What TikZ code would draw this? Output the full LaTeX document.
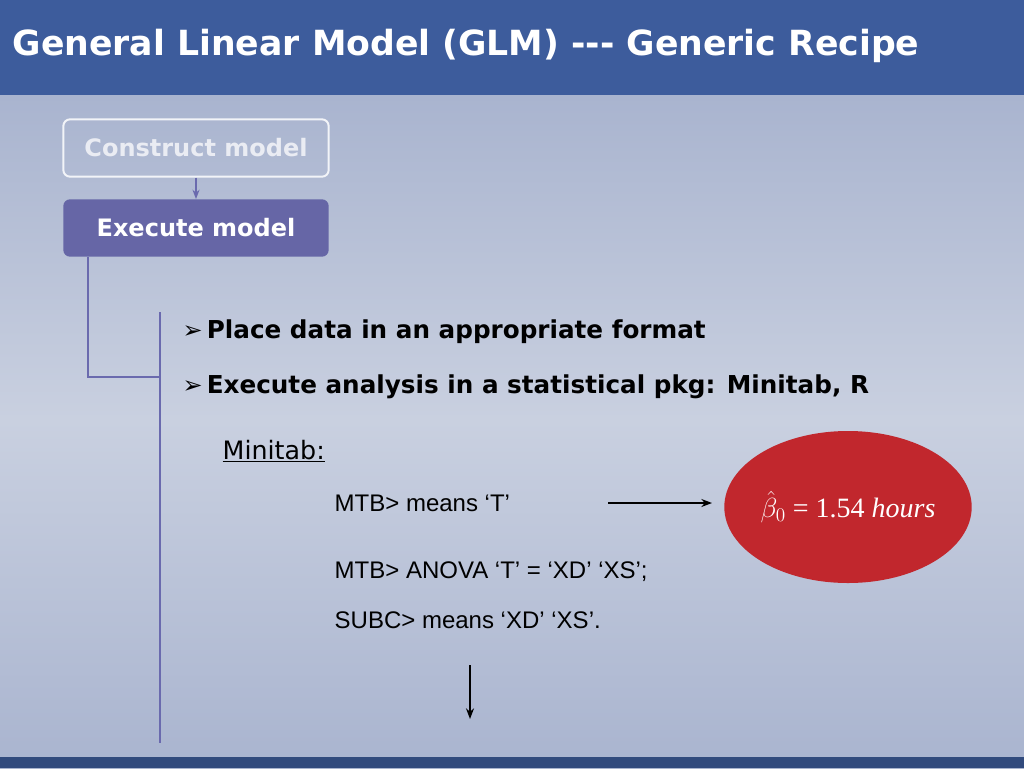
\documentclass[tikz,border=0pt]{standalone}
\usepackage{fontspec}
\setmainfont{Liberation Sans}
\newfontfamily\comic{DejaVu Sans}
\newfontfamily\timesf{Liberation Serif}
\usetikzlibrary{shapes.geometric,arrows.meta}
\definecolor{bgtop}{HTML}{A9B4CF}
\definecolor{bgmid}{HTML}{C9D0E0}
\definecolor{titlebar}{HTML}{3D5C9C}
\definecolor{boxfill}{HTML}{6666A6}
\definecolor{linec}{HTML}{6A6AAE}
\definecolor{redfill}{HTML}{C1272D}
\tikzset{
 bullet/.style={anchor=west,font=\comic\bfseries\fontsize{18.5}{21}\selectfont},
 code/.style={anchor=west,font=\fontsize{18}{20}\selectfont},
 conn/.style={draw=linec,line width=2pt}
}
\begin{document}
\begin{tikzpicture}[x=0.75pt,y=-0.75pt]
\useasboundingbox (0,0) rectangle (1024,768);
\shade[top color=bgtop,bottom color=bgmid] (0,95) rectangle (1024,420);
\shade[top color=bgmid,bottom color=bgtop] (0,420) rectangle (1024,768);
\fill[titlebar] (0,0) rectangle (1024,95);
\fill[titlebar!80!black] (0,757) rectangle (1024,768);
\node[anchor=west,text=white,font=\comic\bfseries\fontsize{26}{30}\selectfont] (title) at (8,46) {General Linear Model (GLM) --- Generic Recipe};
\node[draw=white!85!bgtop,line width=1.5pt,rounded corners=5pt,minimum width=199pt,minimum height=43pt,text=white!75!bgtop,font=\comic\bfseries\fontsize{18}{20}\selectfont] (c) at (196,148) {Construct model};
\node[fill=boxfill,rounded corners=5pt,minimum width=199pt,minimum height=43pt,text=white,font=\comic\bfseries\fontsize{18}{20}\selectfont] (e) at (196,228) {Execute model};
\draw[linec,line width=1.2pt,-{Stealth[length=7pt]}] (c) -- (e);
\coordinate (l0) at (88,257);
\coordinate (l1) at (88,377);
\coordinate (l2) at (160,377);
\coordinate (v0) at (160,312);
\coordinate (v1) at (160,743);
\draw[conn] (l0) -- (l1) -- (l2);
\draw[conn] (v0) -- (v1);
\node[bullet] (b1) at (178,332) {\fontsize{18}{20}\selectfont➢\,\fontsize{18.5}{21}\selectfont Place data in an appropriate format};
\node[bullet] (b2) at (178,387) {\fontsize{18}{20}\selectfont➢\,\fontsize{18.5}{21}\selectfont Execute analysis in a statistical pkg: Minitab, R};
\node[anchor=west,font=\comic\fontsize{19}{21}\selectfont] (mt) at (218,451) {\underline{Minitab:}};
\node[code] (m1) at (330,503) {MTB> means ‘T’};
\node[code] (m2) at (330,572) {MTB> ANOVA ‘T’ = ‘XD’ ‘XS’;};
\node[code] (m3) at (330,620) {SUBC> means ‘XD’ ‘XS’.};
\coordinate (a0) at (608,503);
\node[ellipse,fill=redfill,inner sep=0pt,minimum width=180pt,minimum height=114pt,text=white,font=\timesf\fontsize{21}{24}\selectfont] (el) at (848,507) {$\hat{\beta}_0$ = 1.54 \textit{hours}};
\coordinate (a1) at (712,503);
\draw[line width=1pt,-{Stealth[length=8pt]}] (a0) -- (a1);
\coordinate (d0) at (470,665);
\coordinate (d1) at (470,719);
\draw[line width=1.2pt,-{Stealth[length=8pt]}] (d0) -- (d1);
\end{tikzpicture}
\end{document}
